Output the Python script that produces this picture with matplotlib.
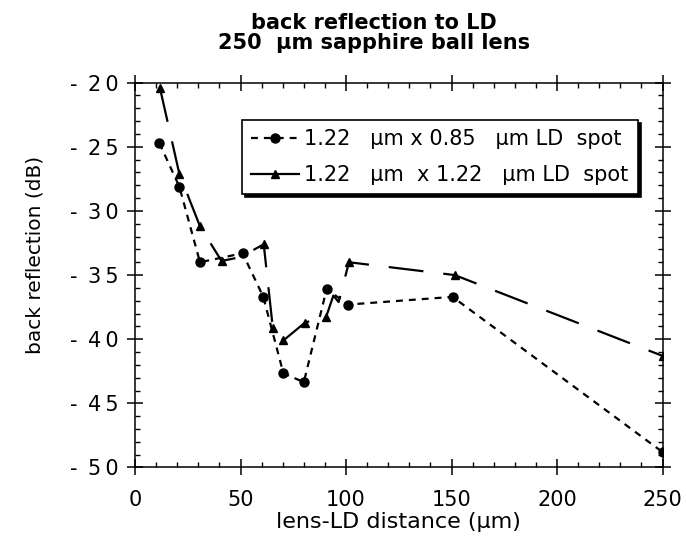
import matplotlib.pyplot as plt
from matplotlib.ticker import MultipleLocator

plt.rcParams['font.family'] = ['DejaVu Sans']

# 1.22 um x 0.85 um LD spot (circles)
dist_a = [11.5, 21, 30.8, 51, 60.8, 70.3, 80, 90.8, 101, 150.5, 250]
refl_a = [-24.7, -28.1, -34.0, -33.3, -36.7, -42.65, -43.35, -36.1, -37.3, -36.7, -48.8]

# 1.22 um x 1.22 um LD spot (triangles)
dist_b = [11.8, 21, 30.8, 41, 50, 61, 65.3, 70.3, 80.6, 87, 90.5, 94, 96.5, 101.4, 151.5, 250]
refl_b = [-20.4, -27.1, -31.2, -33.9, -33.6, -32.6, -39.1, -40.1, -38.7, -38.4, -38.3,
          -36.6, -37.1, -34.0, -35.0, -41.3]
marks_b = [0, 1, 2, 3, 5, 6, 7, 8, 10, 13, 14, 15]

xticks = [0, 50, 100, 150, 200, 250]
yticks = [-50, -45, -40, -35, -30, -25, -20]

fig = plt.figure(figsize=(6.86, 5.42), dpi=100)
ax = fig.add_axes([0.1968, 0.1375, 0.769, 0.71])

ax.plot(dist_a, refl_a, color='black', linestyle=(0, (3.1, 2.7)), linewidth=1.6,
        marker='o', markersize=6.5, label='1.22   \u00b5m x 0.85   \u00b5m LD  spot')
ax.plot(dist_b, refl_b, color='black', linestyle=(0, (15.7, 9)), linewidth=1.6,
        marker='^', markersize=6, markevery=marks_b,
        label='1.22   \u00b5m  x 1.22   \u00b5m LD  spot')

ax.set_xlim(0, 250)
ax.set_ylim(-50, -20)
ax.set_xticks(xticks)
ax.set_xticklabels([str(v) for v in xticks])
ax.set_yticks(yticks)
ax.set_yticklabels(['-\u2002' + '\u2009'.join(str(abs(v))) for v in yticks])
ax.xaxis.set_minor_locator(MultipleLocator(10))
ax.yaxis.set_minor_locator(MultipleLocator(1))
ax.tick_params(which='major', direction='inout', length=12, width=1.1,
               top=True, right=True, labelsize=15)
ax.tick_params(axis='x', which='major', pad=10)
ax.tick_params(axis='y', which='major', pad=6)
ax.tick_params(which='minor', direction='in', length=3.6, width=1,
               top=True, right=True)
for s in ax.spines.values():
    s.set_linewidth(1.1)

ax.set_xlabel('lens-LD distance (\u00b5m)', fontsize=16, labelpad=2)
ax.set_ylabel('back reflection (dB)', fontsize=14.5)
ax.yaxis.set_label_coords(-0.172, 0.552)
ax.set_title('back reflection to LD\n250  \u00b5m sapphire ball lens',
             fontsize=15, fontweight='bold', pad=24, x=0.453, linespacing=1.0)

leg = ax.legend(loc='upper right', bbox_to_anchor=(0.9535, 0.903), fontsize=15,
                frameon=True, fancybox=False, framealpha=1,
                shadow={'facecolor': 'black', 'edgecolor': 'black', 'alpha': 1},
                handlelength=2.3, handletextpad=0.25, borderpad=0.45,
                labelspacing=0.75, borderaxespad=0)
leg.get_frame().set_edgecolor('black')
leg.get_frame().set_linewidth(1.2)
leg.get_lines()[1].set_linestyle('-')

fig.savefig('out.png', dpi=100)
